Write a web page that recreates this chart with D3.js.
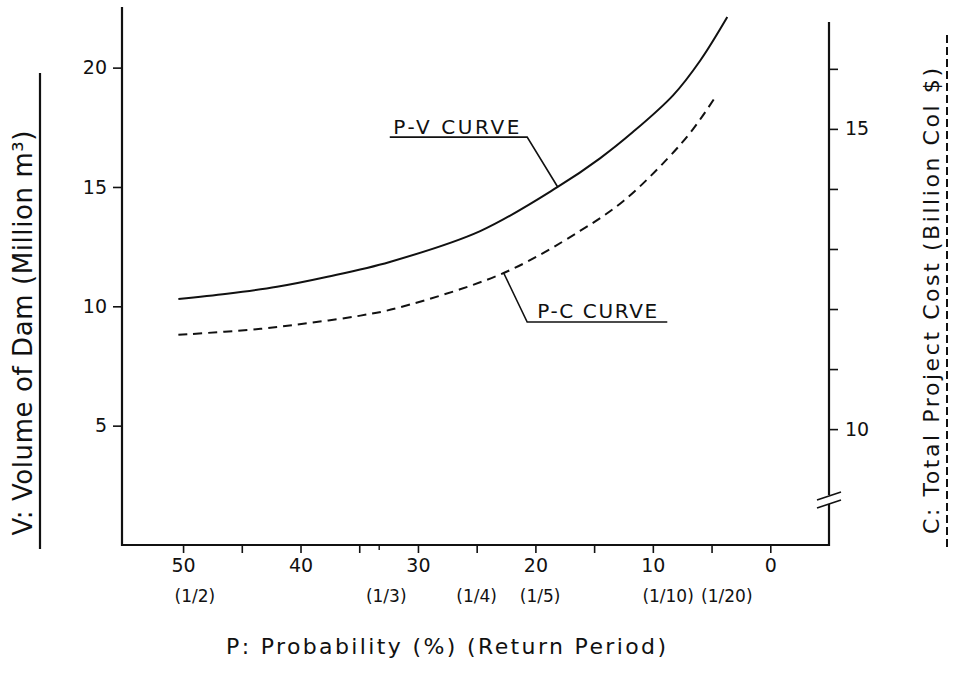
<!DOCTYPE html>
<html>
<head>
<meta charset="utf-8">
<script src="https://cdn.jsdelivr.net/npm/d3@7"></script>
<style>
  html, body { margin: 0; padding: 0; background: #fff; }
  svg { display: block; }
  text { font-family: "DejaVu Sans", "Liberation Sans", sans-serif; fill: #111; }
</style>
</head>
<body>
<svg id="chart" width="954" height="674"></svg>
<script>
// ---------------- data ----------------
// P-V curve: probability (%) vs volume of dam (million m3)
const pvP = [50.4, 46.25, 42.0, 37.7, 32.4, 24.7, 18.1, 14.5, 11.7, 8.26, 5.96, 3.66];
const pvV = [10.31, 10.53, 10.82, 11.24, 11.86, 13.15, 15.0, 16.2, 17.3, 18.85, 20.3, 22.12];
// P-C curve: probability (%) vs total project cost (billion Col $)
const pcP = [50.4, 43.4, 39.2, 34.9, 31.7, 22.7, 16.2, 12.5, 8.77, 6.56, 4.68];
const pcC = [11.57, 11.67, 11.77, 11.89, 12.02, 12.6, 13.3, 13.8, 14.5, 15.0, 15.53];

const xTicks = [50, 45, 40, 35, 30, 25, 20, 15, 10, 5, 0];
const xTickLabels = ["50", "", "40", "", "30", "", "20", "", "10", "", "0"];
const xMinorTicks = [33.3];
const leftTicks = [5, 10, 15, 20];
const rightTicks = [10, 11, 12, 13, 14, 15, 16];
const rightTickLabels = ["10", "", "", "", "", "15", ""];
const returnLabels = ["(1/2)", "(1/3)", "(1/4)", "(1/5)", "(1/10)", "(1/20)"];
const returnLabelP = [49.0, 32.7, 25.0, 19.6, 8.7, 3.7];

const xTitle = "P: Probability (%)  (Return Period)";
const leftTitle = "V: Volume of Dam (Million m³)";
const rightTitle = "C: Total Project Cost (Billion Col $)";

// ---------------- scales ----------------
const svg = d3.select("#chart");
const x = d3.scaleLinear().domain([55.2, -5.0]).range([122, 829]);
const yV = d3.scaleLinear().domain([0, 22.54]).range([545, 7]);
const yC = d3.scaleLinear().domain([8.07, 17.03]).range([545, 7]);

const g = svg.append("g");
const ink = "#111";

// ---------------- axes ----------------
const xAxis = d3.axisBottom(x).tickValues(xTicks)
  .tickFormat((d, i) => xTickLabels[i]).tickSize(8).tickPadding(5);
const gx = g.append("g").attr("transform", `translate(0,${yV(0)})`).call(xAxis);
gx.select(".domain").remove();
gx.selectAll(".tick line").attr("stroke", ink).attr("stroke-width", 1.6);
gx.selectAll(".tick text").attr("font-size", 19).attr("dy", "0.75em");
g.selectAll(".xminor").data(xMinorTicks).join("line")
  .attr("x1", d => x(d)).attr("x2", d => x(d))
  .attr("y1", yV(0)).attr("y2", yV(0) + 5)
  .attr("stroke", ink).attr("stroke-width", 1.4);
g.append("line").attr("x1", x.range()[0]).attr("x2", x.range()[1])
  .attr("y1", yV(0)).attr("y2", yV(0)).attr("stroke", ink).attr("stroke-width", 2);

// left axis
const yAxisL = d3.axisLeft(yV).tickValues(leftTicks).tickSize(9).tickPadding(6);
const gl = g.append("g").attr("transform", `translate(${x.range()[0]},0)`).call(yAxisL);
gl.select(".domain").remove();
gl.selectAll(".tick line").attr("stroke", ink).attr("stroke-width", 1.6);
gl.selectAll(".tick text").attr("font-size", 19);
g.append("line").attr("x1", x.range()[0]).attr("x2", x.range()[0])
  .attr("y1", yV.range()[1]).attr("y2", yV(0) + 1).attr("stroke", ink).attr("stroke-width", 2.2);

// right axis
const xr = x.range()[1];
const yAxisR = d3.axisRight(yC).tickValues(rightTicks)
  .tickFormat((d, i) => rightTickLabels[i]).tickSize(9).tickPadding(7);
const gr = g.append("g").attr("transform", `translate(${xr},0)`).call(yAxisR);
gr.select(".domain").remove();
gr.selectAll(".tick line").attr("stroke", ink).attr("stroke-width", 1.6);
gr.selectAll(".tick text").attr("font-size", 19);
const breakC = 8.82;
const rTop = yC(16.78);
g.append("line").attr("x1", xr).attr("x2", xr).attr("y1", rTop).attr("y2", yC(breakC) - 5)
  .attr("stroke", ink).attr("stroke-width", 2.2);
g.append("line").attr("x1", xr).attr("x2", xr).attr("y1", yC(breakC) + 4).attr("y2", yV(0) + 1)
  .attr("stroke", ink).attr("stroke-width", 2.2);
[-4, 4].forEach(off => {
  g.append("line")
    .attr("x1", xr - 12).attr("y1", yC(breakC) + off + 4)
    .attr("x2", xr + 12).attr("y2", yC(breakC) + off - 4)
    .attr("stroke", ink).attr("stroke-width", 1.6);
});

// ---------------- curves ----------------
const pv = pvP.map((p, i) => ({ p, v: pvV[i] }));
const pc = pcP.map((p, i) => ({ p, c: pcC[i] }));
const linePV = d3.line().x(d => x(d.p)).y(d => yV(d.v)).curve(d3.curveCatmullRom.alpha(0.5));
const linePC = d3.line().x(d => x(d.p)).y(d => yC(d.c)).curve(d3.curveCatmullRom.alpha(0.5));
g.append("path").datum(pv).attr("d", linePV)
  .attr("fill", "none").attr("stroke", ink).attr("stroke-width", 2);
g.append("path").datum(pc).attr("d", linePC)
  .attr("fill", "none").attr("stroke", ink).attr("stroke-width", 2)
  .attr("stroke-dasharray", "9,6");

// ---------------- annotations ----------------
const pvLeaderP = 18.1;
const pvTextP = 32.1, pvTextV = 17.2, pvLineV = 17.09, pvLineP0 = 32.4, pvLineP1 = 20.7;
g.append("text").attr("x", x(pvTextP)).attr("y", yV(pvTextV))
  .attr("font-size", 20).attr("textLength", 126).attr("lengthAdjust", "spacing")
  .text("P-V CURVE");
g.append("polyline")
  .attr("points", [[x(pvLineP0), yV(pvLineV)], [x(pvLineP1), yV(pvLineV)],
    [x(pvLeaderP), yV(pvV[pvP.indexOf(pvLeaderP)])]].map(d => d.join(",")).join(" "))
  .attr("fill", "none").attr("stroke", ink).attr("stroke-width", 1.6);

const pcLeaderP = 22.7;
const pcTextP = 19.85, pcTextV = 9.51, pcLineV = 9.34, pcLineP0 = 20.7, pcLineP1 = 8.77;
g.append("text").attr("x", x(pcTextP)).attr("y", yV(pcTextV))
  .attr("font-size", 20).attr("textLength", 120).attr("lengthAdjust", "spacing")
  .text("P-C CURVE");
g.append("polyline")
  .attr("points", [[x(pcLeaderP), yC(pcC[pcP.indexOf(pcLeaderP)])], [x(pcLineP0), yV(pcLineV)],
    [x(pcLineP1), yV(pcLineV)]].map(d => d.join(",")).join(" "))
  .attr("fill", "none").attr("stroke", ink).attr("stroke-width", 1.6);

// ---------------- return period labels ----------------
g.selectAll(".rp").data(returnLabels).join("text")
  .attr("x", (d, i) => x(returnLabelP[i])).attr("y", 602)
  .attr("text-anchor", "middle").attr("font-size", 17).text(d => d);

// ---------------- titles ----------------
g.append("text").attr("x", 446).attr("y", 654).attr("text-anchor", "middle")
  .attr("font-size", 22).attr("textLength", 440).attr("lengthAdjust", "spacing")
  .text(xTitle);

g.append("text").attr("transform", "translate(32,333) rotate(-90)")
  .attr("text-anchor", "middle").attr("font-size", 26)
  .attr("textLength", 405).attr("lengthAdjust", "spacing").text(leftTitle);
g.append("line").attr("x1", 40).attr("x2", 40).attr("y1", 73).attr("y2", 549)
  .attr("stroke", ink).attr("stroke-width", 2.2);

g.append("text").attr("transform", "translate(939,301) rotate(-90)")
  .attr("text-anchor", "middle").attr("font-size", 22)
  .attr("textLength", 466).attr("lengthAdjust", "spacing").text(rightTitle);
g.append("line").attr("x1", 947).attr("x2", 947).attr("y1", 35).attr("y2", 548)
  .attr("stroke", ink).attr("stroke-width", 2).attr("stroke-dasharray", "8,4");
</script>
</body>
</html>
